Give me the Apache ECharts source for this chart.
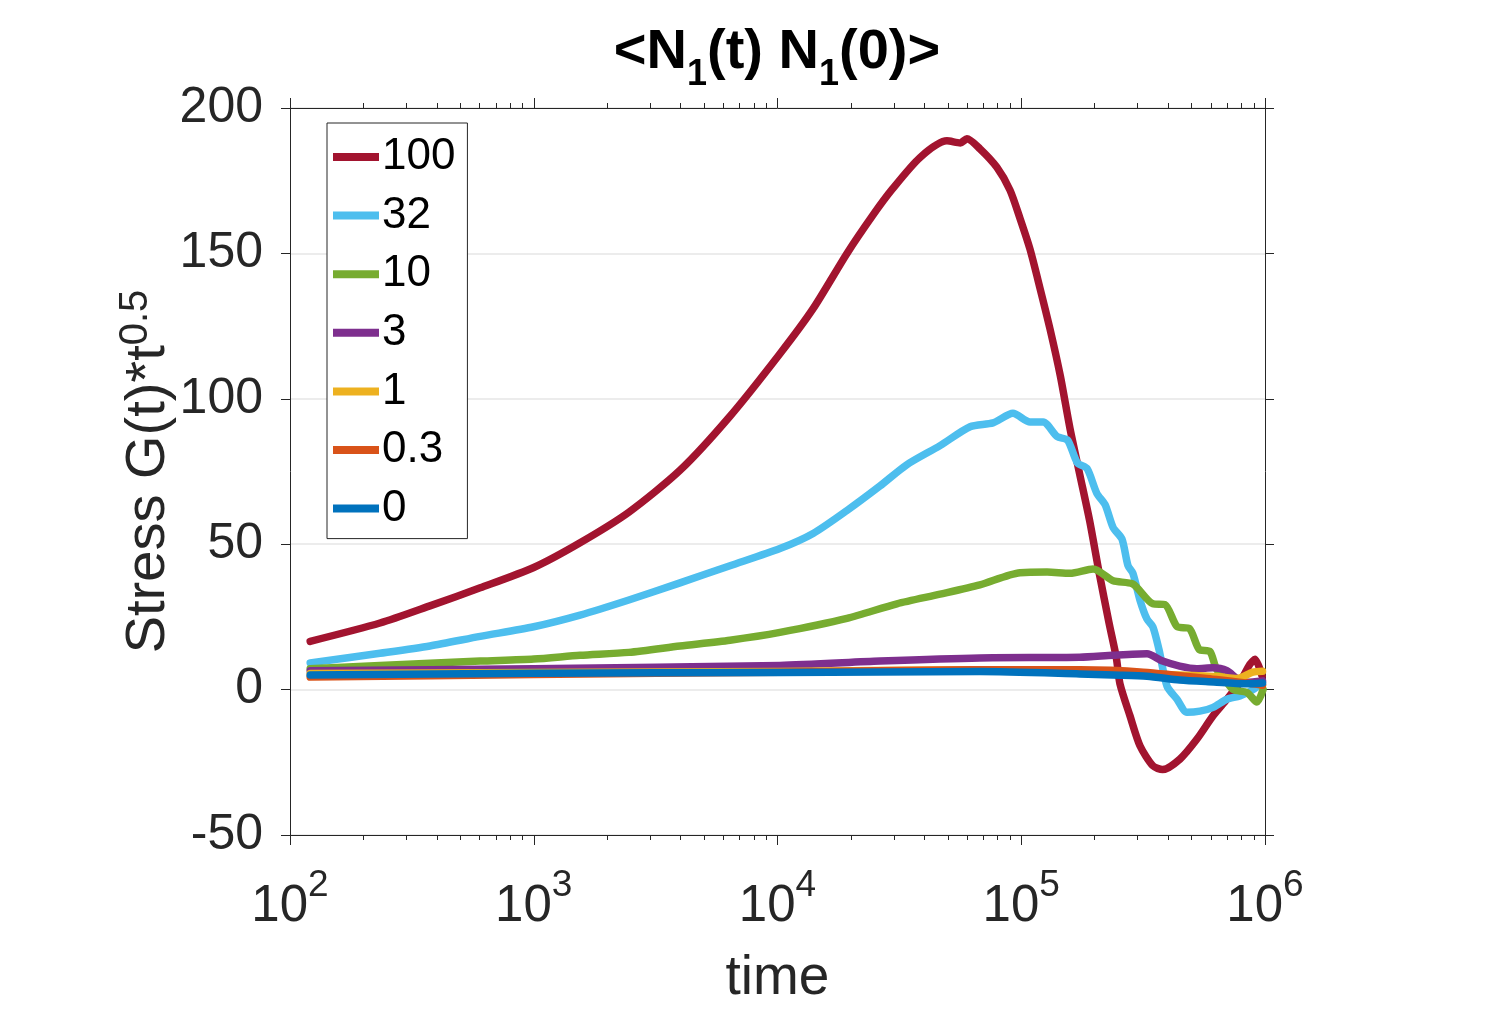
<!DOCTYPE html>
<html>
<head>
<meta charset="utf-8">
<script src="https://cdn.jsdelivr.net/npm/echarts@6/dist/echarts.min.js"></script>
<style>
html,body{margin:0;padding:0;background:#fff;}
#c{width:1503px;height:1011px;}
</style>
</head>
<body>
<div id="c"></div>
<script>
// ---- data (time, value) ----
const seriesNames = ['100', '32', '10', '3', '1', '0.3', '0'];
const seriesColors = ['#A2142F', '#4DBEEE', '#77AC30', '#7E2F8E', '#EDB120', '#D95319', '#0072BD'];

const t100 = [121, 234, 375, 603, 1000, 1549, 2455, 3981, 6383, 10233, 13996, 19275, 24547, 29512, 38459, 49545, 56234, 59841, 67608, 79433, 89950, 98855, 108643, 119399, 131220, 144544, 158489, 173780, 190546, 208930, 229087, 245471, 254097, 279254, 306902, 346737, 380189, 447713, 526017, 612350, 698232, 788860, 866962, 909913, 972747];
const v100 = [16.6, 22.9, 28.8, 35, 42, 50.5, 61, 75.4, 94, 115.5, 131, 150, 163, 172, 183, 188.7, 188, 189.4, 186, 179.6, 171.7, 162, 151.4, 138, 124, 108, 89.8, 74, 58.3, 40, 23, 11, 2, -9, -19.3, -26.2, -27.5, -23.9, -17, -9, -3.3, 2.5, 8.7, 10.4, 4.7];

const t32 = [121, 234, 375, 603, 1000, 1549, 2455, 3981, 6383, 10233, 13996, 19275, 26303, 33884, 46452, 61660, 76560, 92470, 108643, 123027, 140281, 154882, 169824, 186209, 204174, 220800, 238232, 258821, 274157, 287078, 306902, 328095, 346737, 367282, 396278, 435511, 478630, 540754, 612350, 698232, 788860, 893305, 972747];
const v32 = [9.2, 12.5, 15, 18.3, 21.6, 25.6, 30.8, 36.7, 42.6, 48.5, 53.7, 61.6, 70, 77.3, 83.9, 90.4, 91.7, 95, 92, 92, 87, 85.8, 78, 76, 67.5, 63.6, 55.7, 51.8, 42.6, 40, 30.8, 24.2, 21.6, 13.8, 1.2, -3.3, -7.8, -7.4, -6.1, -3.3, -2.2, 0, 2.5];

const t10 = [121, 234, 603, 1000, 1549, 2455, 3981, 6383, 10233, 19275, 30903, 46452, 67608, 98855, 127644, 158489, 197242, 238232, 287078, 346737, 389045, 436516, 489779, 537032, 594292, 630957, 683912, 741310, 843335, 926830, 981748];
const v10 = [7.2, 8.3, 9.8, 10.5, 11.8, 12.8, 15, 17, 19.7, 24.5, 29.5, 32.8, 36, 40.2, 40.4, 40, 41.5, 37.4, 36.3, 29.5, 29.2, 21.6, 21, 13.8, 13.1, 7.2, 3.5, 0, -1, -4.3, 0];

const t3 = [121, 1000, 10233, 26303, 67608, 173780, 238232, 328095, 380189, 446684, 524807, 612350, 698232, 767361, 843335, 977237];
const v3 = [6.5, 7.2, 8.3, 9.8, 10.9, 11.1, 11.8, 12.3, 9.8, 8.1, 7.2, 7.5, 6.5, 3.8, 2.5, 3];

const t1 = [121, 1000, 10233, 63096, 173780, 316228, 630957, 767361, 891251, 977237];
const v1 = [5.5, 5.9, 6.2, 6.8, 6.5, 5.5, 4.5, 3.8, 6, 6.3];

const t03 = [121, 1000, 10233, 63096, 173780, 316228, 630957, 891251, 977237];
const v03 = [4.3, 5.2, 6, 6.8, 6.8, 6, 3.5, 2, 1.5];

const t0 = [121, 1000, 10233, 67608, 173780, 238232, 328095, 446684, 616595, 831764, 977237];
const v0 = [5, 5.6, 5.9, 6.2, 5.4, 5, 4.6, 3.3, 2.6, 2, 2.3];

const seriesTimes = [t100, t32, t10, t3, t1, t03, t0];
const seriesValues = [v100, v32, v10, v3, v1, v03, v0];

// ---- axes ----
const yTicks = [-50, 0, 50, 100, 150, 200];
const xMajorExps = [2, 3, 4, 5, 6];
const xMinorFactors = [2, 3, 4, 5, 6, 7, 8, 9];

const minorExps = [];
for (let e = 2; e < 6; e++) {
  for (const f of xMinorFactors) minorExps.push(e + Math.log10(f));
}

const FONT = '"Liberation Sans", Arial, Helvetica, sans-serif';
const AX = '#262626';

const chart = echarts.init(document.getElementById('c'), null, { renderer: 'canvas' });

const series = seriesNames.map((name, i) => ({
  name: name,
  type: 'line',
  xAxisIndex: 0,
  yAxisIndex: 0,
  showSymbol: false,
  symbol: 'none',
  smooth: 0.25,
  animation: false,
  lineStyle: { width: 7.5, color: seriesColors[i], cap: 'round', join: 'round' },
  itemStyle: { color: seriesColors[i] },
  data: seriesTimes[i].map((t, k) => [t, seriesValues[i][k]])
}));

const majorLog = (pos, labels) => ({
  type: 'log', logBase: 10, min: 100, max: 1e6, interval: 1, position: pos,
  gridIndex: 0,
  axisLine: { show: true, onZero: false, lineStyle: { color: AX, width: 1 } },
  axisTick: { show: true, inside: false, length: 10, lineStyle: { color: AX, width: 1 } },
  splitLine: { show: false },
  axisLabel: labels ? {
    show: true, margin: 32, color: AX, fontFamily: FONT,
    formatter: v => '{b|10}{s|' + Math.round(Math.log10(v)) + '}',
    rich: {
      b: { fontSize: 51, lineHeight: 80, fontFamily: FONT, color: AX },
      s: { fontSize: 37, lineHeight: 36, verticalAlign: 'top', fontFamily: FONT, color: AX }
    }
  } : { show: false },
  name: labels ? 'time' : '',
  nameLocation: 'middle',
  nameGap: 116,
  nameMoveOverlap: false,
  nameTextStyle: { fontSize: 55, fontFamily: FONT, color: AX }
});

const minorAxis = (pos) => ({
  type: 'value', min: 2, max: 6, position: pos, gridIndex: 0,
  axisLine: { show: false, onZero: false },
  axisTick: { show: true, inside: false, length: 5, customValues: minorExps, lineStyle: { color: AX, width: 1 } },
  axisLabel: { show: false },
  splitLine: { show: false }
});

const yAxisDef = (pos, labels) => ({
  type: 'value', min: -50, max: 200, interval: 50, position: pos, gridIndex: 0,
  axisLine: { show: true, onZero: false, lineStyle: { color: AX, width: 1 } },
  axisTick: { show: true, inside: false, length: 9, lineStyle: { color: AX, width: 1 } },
  splitLine: labels ? { show: true, lineStyle: { color: '#e6e6e6', width: 1.5 } } : { show: false },
  axisLabel: labels ? { show: true, margin: 27, fontSize: 50, fontFamily: FONT, color: AX } : { show: false },
  name: labels ? '{m|Stress G(t)*t}{s|0.5}' : '',
  nameLocation: 'middle',
  nameRotate: 90,
  nameGap: 108,
  nameMoveOverlap: false,
  nameTextStyle: {
    fontFamily: FONT, color: AX,
    rich: {
      m: { fontSize: 56, lineHeight: 66, fontFamily: FONT, color: AX },
      s: { fontSize: 40, lineHeight: 40, verticalAlign: 'top', fontFamily: FONT, color: AX }
    }
  }
});

const option = {
  animation: false,
  backgroundColor: '#ffffff',
  title: {
    text: '{b|<N}{s|1}{b|(t) N}{s|1}{b|(0)>}',
    left: 777, top: 13, padding: 0, textAlign: 'center',
    textStyle: {
      rich: {
        b: { fontSize: 56, fontWeight: 'bold', lineHeight: 80, fontFamily: FONT, color: '#000' },
        s: { fontSize: 36, fontWeight: 'bold', lineHeight: 38, verticalAlign: 'bottom', fontFamily: FONT, color: '#000' }
      }
    }
  },
  grid: { left: 290, right: 238, top: 108, bottom: 175, containLabel: false },
  legend: {
    data: seriesNames,
    orient: 'vertical',
    left: 327, top: 123,
    padding: [11, 12, 7, 6],
    itemGap: 12.6,
    itemWidth: 46, itemHeight: 8,
    icon: 'rect',
    backgroundColor: '#ffffff',
    borderColor: '#262626', borderWidth: 1, borderRadius: 0,
    textStyle: { fontSize: 44, lineHeight: 46, fontFamily: FONT, color: '#000', padding: [0, 0, 0, -2] }
  },
  xAxis: [majorLog('bottom', true), minorAxis('bottom'), majorLog('top', false), minorAxis('top')],
  yAxis: [yAxisDef('left', true), yAxisDef('right', false)],
  series: series
};

chart.setOption(option);
</script>
</body>
</html>
